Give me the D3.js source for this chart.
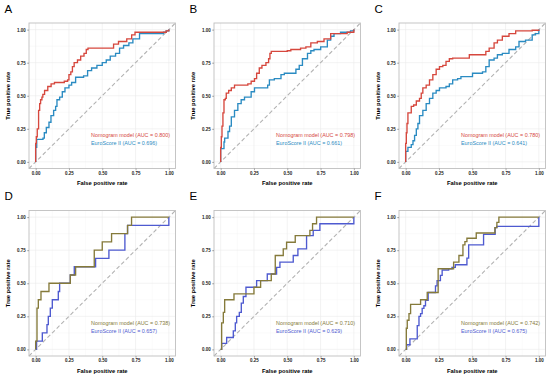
<!DOCTYPE html>
<html>
<head>
<meta charset="utf-8">
<script src="https://cdn.jsdelivr.net/npm/d3@7"></script>
<style>
  body { margin: 0; background: #fff; }
  svg { display: block; font-family: "Liberation Sans", Arial, sans-serif; }
</style>
</head>
<body>
<svg id="chart" width="550" height="375"></svg>
<script>
// panel letters and AUC values
const panels = ["A", "B", "C", "D", "E", "F"];
const aucNomogram = ["0.800", "0.798", "0.780", "0.738", "0.710", "0.742"];
const aucEuro = ["0.696", "0.661", "0.641", "0.657", "0.629", "0.675"];
const axisTicks = [0, 0.25, 0.5, 0.75, 1];
const minorTicks = [0.125, 0.375, 0.625, 0.875];

// ROC points [fpr, tpr]
const nomogramA = [[0,0],[0,0.14],[0.005,0.19],[0.012,0.25],[0.022,0.39],[0.03,0.44],[0.037,0.47],[0.047,0.49],[0.054,0.51],[0.067,0.54],[0.091,0.57],[0.116,0.59],[0.141,0.60],[0.215,0.61],[0.24,0.62],[0.25,0.66],[0.264,0.68],[0.276,0.72],[0.289,0.75],[0.314,0.77],[0.338,0.80],[0.363,0.82],[0.38,0.85],[0.393,0.86],[0.585,0.89],[0.622,0.91],[0.684,0.93],[0.721,0.96],[0.746,0.98],[0.906,0.98],[0.98,0.99],[1,1]];
const euroA = [[0,0],[0,0.11],[0.005,0.11],[0.008,0.17],[0.055,0.18],[0.065,0.22],[0.08,0.26],[0.1,0.3],[0.115,0.35],[0.135,0.39],[0.15,0.42],[0.16,0.47],[0.18,0.49],[0.2,0.53],[0.22,0.56],[0.25,0.58],[0.27,0.6],[0.3,0.64],[0.36,0.65],[0.39,0.69],[0.42,0.71],[0.46,0.73],[0.5,0.75],[0.53,0.77],[0.56,0.8],[0.6,0.82],[0.63,0.86],[0.66,0.88],[0.7,0.9],[0.73,0.93],[0.78,0.97],[0.96,0.98],[0.98,0.99],[1,1]];

const nomogramB = [[0,0],[0,0.11],[0.005,0.19],[0.01,0.27],[0.017,0.37],[0.025,0.47],[0.035,0.48],[0.042,0.52],[0.06,0.54],[0.08,0.56],[0.104,0.58],[0.204,0.59],[0.229,0.61],[0.254,0.63],[0.27,0.67],[0.29,0.71],[0.31,0.73],[0.34,0.75],[0.36,0.78],[0.37,0.82],[0.38,0.835],[0.5,0.84],[0.527,0.85],[0.6,0.86],[0.64,0.87],[0.677,0.9],[0.726,0.91],[0.776,0.93],[0.826,0.97],[0.95,0.98],[1,1]];
const euroB = [[0,0],[0,0.1],[0.025,0.15],[0.03,0.18],[0.055,0.23],[0.067,0.27],[0.08,0.34],[0.104,0.39],[0.129,0.44],[0.154,0.47],[0.179,0.49],[0.229,0.53],[0.254,0.56],[0.353,0.58],[0.366,0.62],[0.403,0.63],[0.453,0.66],[0.478,0.67],[0.565,0.7],[0.59,0.73],[0.614,0.78],[0.652,0.82],[0.677,0.84],[0.701,0.85],[0.751,0.87],[0.801,0.92],[0.826,0.95],[0.851,0.97],[0.9,0.98],[0.975,0.99],[1,1]];

const nomogramC = [[0,0],[0,0.14],[0.005,0.22],[0.01,0.29],[0.017,0.37],[0.042,0.42],[0.06,0.43],[0.08,0.46],[0.104,0.48],[0.117,0.52],[0.129,0.56],[0.154,0.58],[0.179,0.62],[0.204,0.66],[0.229,0.7],[0.254,0.72],[0.279,0.73],[0.303,0.76],[0.328,0.78],[0.353,0.785],[0.478,0.81],[0.602,0.835],[0.627,0.86],[0.664,0.9],[0.689,0.92],[0.726,0.95],[0.776,0.97],[0.826,0.99],[0.95,0.995],[1,1]];
const euroC = [[0,0],[0,0.08],[0.017,0.11],[0.042,0.13],[0.055,0.16],[0.067,0.2],[0.08,0.25],[0.092,0.29],[0.104,0.35],[0.129,0.39],[0.154,0.44],[0.179,0.48],[0.204,0.52],[0.229,0.54],[0.254,0.56],[0.303,0.57],[0.328,0.59],[0.353,0.62],[0.39,0.63],[0.415,0.645],[0.502,0.67],[0.577,0.68],[0.602,0.72],[0.627,0.77],[0.664,0.785],[0.689,0.81],[0.726,0.82],[0.776,0.85],[0.826,0.87],[0.851,0.91],[0.9,0.92],[0.95,0.96],[0.975,0.97],[1,1]];

const nomogramD = [[0,0],[0,0.0625],[0.01,0.3125],[0.02,0.375],[0.04,0.4375],[0.1,0.5],[0.26,0.5625],[0.3,0.625],[0.44,0.75],[0.5,0.8125],[0.57,0.875],[0.69,0.9375],[0.72,1],[1,1]];
const euroD = [[0,0],[0.007,0.0625],[0.05,0.125],[0.085,0.1875],[0.095,0.25],[0.11,0.3125],[0.125,0.375],[0.17,0.4375],[0.18,0.5],[0.26,0.5625],[0.29,0.625],[0.45,0.6875],[0.55,0.75],[0.67,0.875],[0.69,0.9375],[0.93,0.9375],[1,1]];

const nomogramE = [[0,0],[0.0075,0.2],[0.02,0.28],[0.03,0.375],[0.1,0.42],[0.25,0.47],[0.3,0.52],[0.38,0.57],[0.41,0.71],[0.47,0.76],[0.495,0.81],[0.56,0.86],[0.67,0.9],[0.69,0.95],[0.72,1],[1,1]];
const euroE = [[0,0],[0.0075,0.045],[0.045,0.09],[0.095,0.14],[0.11,0.2],[0.12,0.25],[0.14,0.28],[0.155,0.35],[0.17,0.4],[0.19,0.47],[0.27,0.52],[0.35,0.57],[0.42,0.62],[0.445,0.66],[0.545,0.71],[0.58,0.76],[0.645,0.86],[0.695,0.9],[0.745,0.95],[0.93,0.95],[1,1]];

const nomogramF = [[0,0],[0.005,0.16],[0.012,0.22],[0.025,0.27],[0.037,0.34],[0.112,0.375],[0.162,0.43],[0.244,0.61],[0.36,0.66],[0.4,0.71],[0.43,0.79],[0.445,0.815],[0.46,0.84],[0.53,0.88],[0.67,0.92],[0.685,0.96],[0.7,1],[1,1]];
const euroF = [[0,0],[0.0075,0.035],[0.032,0.08],[0.087,0.18],[0.1,0.25],[0.112,0.27],[0.124,0.31],[0.137,0.33],[0.149,0.37],[0.169,0.43],[0.224,0.48],[0.236,0.52],[0.261,0.56],[0.274,0.6],[0.323,0.61],[0.348,0.62],[0.373,0.64],[0.46,0.69],[0.473,0.79],[0.585,0.87],[0.672,0.92],[0.684,0.93],[0.933,0.93],[1,1]];

const nomogramCurves = [nomogramA, nomogramB, nomogramC, nomogramD, nomogramE, nomogramF];
const euroCurves = [euroA, euroB, euroC, euroD, euroE, euroF];

const topColors = { nomogram: "#d6473d", euro: "#2a8bc2" };
const bottomColors = { nomogram: "#857a3a", euro: "#4e5ad0" };

const svg = d3.select("#chart");
const fmt = d3.format(".2f");

panels.forEach(function (letter, i) {
  const col = i % 3;
  const row = Math.floor(i / 3);
  const ox = col * 185;
  const oy = row * 187.5;
  const colors = row === 0 ? topColors : bottomColors;

  const left = ox + 29, right = ox + 175.5;
  const top = oy + 23, bottom = oy + 168.5;

  const x = d3.scaleLinear().domain([-0.05, 1.05]).range([left, right]);
  const y = d3.scaleLinear().domain([-0.05, 1.05]).range([bottom, top]);

  const g = svg.append("g");

  // panel letter
  g.append("text")
    .attr("x", ox + 4.5)
    .attr("y", oy + 12.5)
    .style("font-size", "11.5px")
    .text(letter);

  // grid
  g.selectAll(".minx").data(minorTicks).join("line")
    .attr("x1", d => x(d)).attr("x2", d => x(d))
    .attr("y1", top).attr("y2", bottom)
    .attr("stroke", "#f2f2f2").attr("stroke-width", 0.4);
  g.selectAll(".miny").data(minorTicks).join("line")
    .attr("y1", d => y(d)).attr("y2", d => y(d))
    .attr("x1", left).attr("x2", right)
    .attr("stroke", "#f2f2f2").attr("stroke-width", 0.4);
  g.selectAll(".majx").data(axisTicks).join("line")
    .attr("x1", d => x(d)).attr("x2", d => x(d))
    .attr("y1", top).attr("y2", bottom)
    .attr("stroke", "#ebebeb").attr("stroke-width", 0.6);
  g.selectAll(".majy").data(axisTicks).join("line")
    .attr("y1", d => y(d)).attr("y2", d => y(d))
    .attr("x1", left).attr("x2", right)
    .attr("stroke", "#ebebeb").attr("stroke-width", 0.6);

  // diagonal reference
  g.append("line")
    .attr("x1", x(-0.05)).attr("y1", y(-0.05))
    .attr("x2", x(1.05)).attr("y2", y(1.05))
    .attr("stroke", "#b3b3b3")
    .attr("stroke-width", 1.1)
    .attr("stroke-dasharray", "4,2.5");

  const line = d3.line()
    .x(d => x(d[0]))
    .y(d => y(d[1]))
    .curve(d3.curveStepAfter);

  g.append("path")
    .datum(euroCurves[i])
    .attr("d", line)
    .attr("fill", "none")
    .attr("stroke", colors.euro)
    .attr("stroke-width", 1.35);

  g.append("path")
    .datum(nomogramCurves[i])
    .attr("d", line)
    .attr("fill", "none")
    .attr("stroke", colors.nomogram)
    .attr("stroke-width", 1.35);

  // frame
  g.append("rect")
    .attr("x", left).attr("y", top)
    .attr("width", right - left).attr("height", bottom - top)
    .attr("fill", "none")
    .attr("stroke", "#bfbfbf")
    .attr("stroke-width", 0.9);

  // axes
  const xAxis = g.append("g")
    .attr("transform", `translate(0,${bottom})`)
    .call(d3.axisBottom(x).tickValues(axisTicks).tickFormat(fmt).tickSize(1.8).tickPadding(1.5));
  const yAxis = g.append("g")
    .attr("transform", `translate(${left},0)`)
    .call(d3.axisLeft(y).tickValues(axisTicks).tickFormat(fmt).tickSize(1.8).tickPadding(1.5));

  [xAxis, yAxis].forEach(function (a) {
    a.select(".domain").remove();
    a.selectAll(".tick line").attr("stroke", "#555").attr("stroke-width", 0.5);
    a.selectAll("text")
      .style("font-size", "4.5px")
      .style("font-weight", "bold")
      .attr("fill", "#1a1a1a");
  });

  // axis titles
  g.append("text")
    .attr("x", (left + right) / 2)
    .attr("y", oy + 185)
    .attr("text-anchor", "middle")
    .style("font-size", "5.8px")
    .style("font-weight", "bold")
    .text("False positive rate");

  g.append("text")
    .attr("transform", `translate(${ox + 9.5},${(top + bottom) / 2}) rotate(-90)`)
    .attr("text-anchor", "middle")
    .style("font-size", "5.8px")
    .style("font-weight", "bold")
    .text("True positive rate");

  // legend
  g.append("text")
    .attr("x", ox + 91)
    .attr("y", oy + 137)
    .style("font-size", "5.4px")
    .attr("fill", colors.nomogram)
    .text("Nomogram model (AUC = " + aucNomogram[i] + ")");

  g.append("text")
    .attr("x", ox + 91)
    .attr("y", oy + 145)
    .style("font-size", "5.4px")
    .attr("fill", colors.euro)
    .text("EuroScore II (AUC = " + aucEuro[i] + ")");
});
</script>
</body>
</html>
